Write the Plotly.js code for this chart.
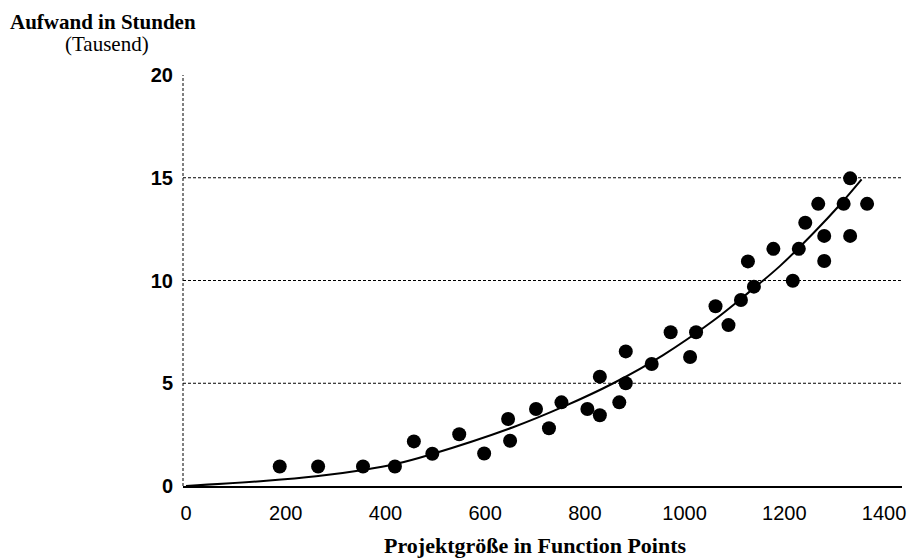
<!DOCTYPE html>
<html>
<head>
<meta charset="utf-8">
<script src="https://cdn.plot.ly/plotly-3.0.1.min.js"></script>
<style>html,body{margin:0;padding:0;background:#fff;}#chart{width:913px;height:558px;}</style>
</head>
<body>
<div id="chart"></div>
<script>
// Projects: size in function points vs. effort in thousand hours
const projectSize = [188, 265, 355, 419, 457, 494, 548, 598, 646, 650, 702, 728, 753, 805, 830, 830, 869, 882, 882, 934, 972, 1011, 1023, 1062, 1088, 1113, 1127, 1139, 1178, 1217, 1229, 1242, 1268, 1280, 1280, 1319, 1332, 1332, 1366];
const projectEffort = [0.95, 0.95, 0.95, 0.95, 2.17, 1.57, 2.52, 1.58, 3.26, 2.2, 3.75, 2.81, 4.07, 3.75, 3.44, 5.32, 4.07, 5.0, 6.55, 5.94, 7.48, 6.28, 7.48, 8.75, 7.83, 9.05, 10.93, 9.70, 11.54, 9.99, 11.54, 12.81, 13.73, 12.17, 10.95, 13.73, 14.97, 12.17, 13.73];

// Trend curve
const trendSize = [0, 161, 261, 355, 422, 489, 656, 757, 857, 957, 1058, 1125, 1191, 1258, 1312, 1355];
const trendEffort = [0, 0.25, 0.47, 0.78, 1.08, 1.52, 2.86, 3.86, 5.0, 6.37, 8.05, 9.35, 10.7, 12.3, 13.7, 14.92];

const xTicks = [0, 200, 400, 600, 800, 1000, 1200, 1400];
const yTicks = [0, 5, 10, 15, 20];
const yGrid = [5, 10, 15];

const serif = "Liberation Serif, Times New Roman, serif";
const sans = "Liberation Sans, Arial, sans-serif";

const traces = [
  {
    x: trendSize, y: trendEffort, type: 'scatter', mode: 'lines',
    line: {color: '#000', width: 2, shape: 'spline', smoothing: 1},
    hoverinfo: 'skip', showlegend: false
  },
  {
    x: projectSize, y: projectEffort, type: 'scatter', mode: 'markers',
    marker: {color: '#000', size: 14, line: {width: 0}},
    showlegend: false
  }
];

const shapes = yGrid.map(v => ({
  type: 'line', xref: 'paper', yref: 'y', x0: 0, x1: 1, y0: v, y1: v,
  line: {color: '#000', width: 1, dash: '3px,2px'}, layer: 'below'
}));
shapes.push({
  type: 'line', xref: 'paper', yref: 'y', x0: 0, x1: 0, y0: 0, y1: 20,
  line: {color: '#000', width: 1, dash: '3px,2px'}, layer: 'below'
});

const layout = {
  width: 913, height: 558,
  margin: {l: 183, r: 11, t: 75, b: 72},
  paper_bgcolor: '#fff', plot_bgcolor: '#fff',
  showlegend: false,
  xaxis: {
    range: [-6, 1436], tickvals: xTicks, ticktext: xTicks.map(String),
    showgrid: false, zeroline: false, showline: true, linecolor: '#000', linewidth: 2,
    ticks: '', ticklabelstandoff: 8,
    tickfont: {family: sans, size: 20, color: '#000'}
  },
  yaxis: {
    range: [0, 20], tickvals: yTicks, ticktext: yTicks.map(String),
    showgrid: false, zeroline: false, showline: false,
    ticks: '', ticklabelstandoff: 9,
    tickfont: {family: sans, size: 20, color: '#000', weight: 'bold'}
  },
  shapes: shapes,
  annotations: [
    {text: '<b>Aufwand in Stunden</b>', xref: 'paper', yref: 'paper', x: -0.2434, y: 1.129,
     xanchor: 'left', yanchor: 'middle', showarrow: false,
     font: {family: serif, size: 21, color: '#000'}},
    {text: '(Tausend)', xref: 'paper', yref: 'paper', x: -0.1669, y: 1.0754,
     xanchor: 'left', yanchor: 'middle', showarrow: false,
     font: {family: serif, size: 21, color: '#000'}},
    {text: '<b>Projektgröße in Function Points</b>', xref: 'paper', yref: 'paper', x: 0.4896, y: -0.1436,
     xanchor: 'center', yanchor: 'middle', showarrow: false,
     font: {family: serif, size: 22, color: '#000'}}
  ]
};

Plotly.newPlot('chart', traces, layout, {displayModeBar: false, staticPlot: true});
</script>
</body>
</html>
